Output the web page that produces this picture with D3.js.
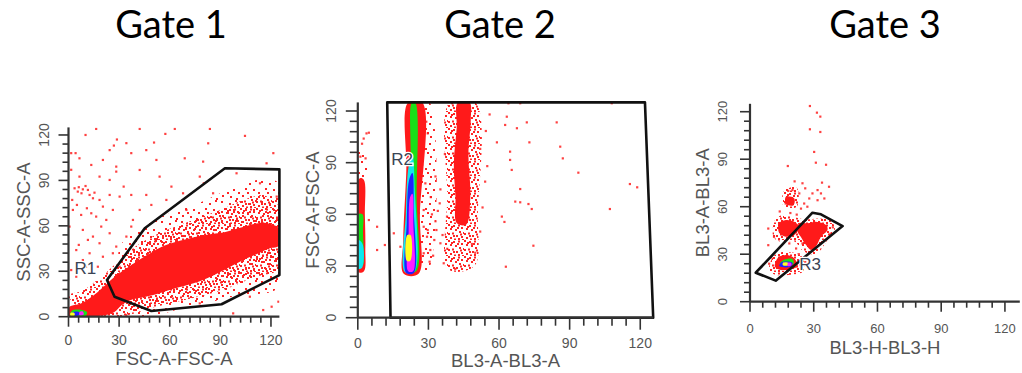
<!DOCTYPE html>
<html><head><meta charset="utf-8">
<script src="https://cdn.jsdelivr.net/npm/d3@7"></script>
<style>body{margin:0;background:#fff}svg{display:block}</style>
</head><body><svg id="c" width="1022" height="373"></svg>
<script>
// ---------- text ----------
const titles = ["Gate 1", "Gate 2", "Gate 3"];
const xLabels = ["FSC-A-FSC-A", "BL3-A-BL3-A", "BL3-H-BL3-H"];
const yLabels = ["SSC-A-SSC-A", "FSC-A-FSC-A", "BL3-A-BL3-A"];
const gateNames = ["R1", "R2", "R3"];
const gateLabelPos = [[10, 32], [18.8, 91.6], [28.3, 23.8]];
const majorTicks = [0, 30, 60, 90, 120];
const minorTicks = [0, 6, 12, 18, 24, 30, 36, 42, 48, 54, 60, 66, 72, 78, 84, 90, 96, 102, 108, 114, 120];

// ---------- Gate 1 (FSC-A vs SSC-A) ----------
const gate1 = [[22.8,24.2],[27.3,13.2],[49.1,3.8],[90.7,8.2],[125,27.5],[125,97.3],[92.7,98],[45.2,58.4]];
const core1 = [[0,0],[18,0.5],[27,3],[32,8],[37,11],[49,14],[61,18],[77,23],[89,29],[101,36],[111,41],[119,45],[125,47],[125,58],[116,62],[106,60],[93,56],[81,54],[69,51],[57,47],[47,41],[37,34],[27,26],[17,16],[8,9],[0,6]];
const haze1 = [[15,0],[35,1],[50,6],[65,10],[80,14],[95,19],[110,26],[125,32],[125,72],[116,80],[106,78],[95,73],[84,68],[72,63],[60,58],[48,52],[38,45],[28,35],[18,25],[8,17],[0,14]];
const light1 = [[40,2],[70,6],[100,14],[125,20],[125,88],[110,90],[95,84],[75,74],[55,66],[40,56],[30,45]];
const hot1 = [[2,[[1,0.4],[10,0.4],[11,3],[8,4.5],[2,4]]],[4,[[2,0.8],[6,0.8],[6.5,3],[2.5,3]]],[6,[[1.2,0.6],[3.5,0.6],[3.5,2.5],[1.2,2.5]]],[5,[[6.5,1],[9,1.5],[8.5,3.5],[6.5,3]]]];
const sparse1 = [[10.1,120],[16.4,124],[28.7,117],[26.9,113],[34.3,114.6],[42.2,124],[50.7,115],[57.4,120.7],[63,124],[68.9,104.6],[79.8,102.4],[83.8,124],[104.6,119.4],[121.4,108],[82.8,114.5],[67.9,81.5],[85.7,81.5],[46.1,80.4],[61,85.9],[4.2,108],[1.6,97],[6.5,92.5],[5.5,82.6],[11.5,83.7],[14.5,78.2],[18.4,92.5],[24.4,90.3],[28.3,95.8],[24.4,80.4],[30.3,79.3],[2.6,70.5],[7.5,67.2],[16.4,66.1],[22.4,63.9],[0.6,59.5],[8.5,57.3],[14.5,52.9],[4.6,44],[12.5,41.9],[18.4,48.5],[28.3,46.3],[20.4,39.6],[8.5,37.4],[34.3,52.9],[38.2,63.9],[49.1,73.8],[52.1,103.5],[77.8,92.5],[99.6,94.7],[113.5,88.1],[117.4,101.3],[123.4,79.3],[120.4,6.6],[124.4,9.9],[115.4,4.4],[107.5,13.2],[77.8,8.8],[34.3,1.1],[97.6,2.2],[3.6,84.8],[6.1,85.5],[8.5,84.1],[10.1,86.3],[7.7,81.5],[12.5,80.4],[15.4,81.9],[18.4,77.1],[2.2,77.1],[5,73.8],[10.9,71.6],[20.4,72.7],[26.3,70.5],[13.5,68.3],[19.4,59.5],[24.4,55.1],[11.5,50.7],[6.1,47.4],[1.6,30.8],[10.5,33],[17.4,33],[4.6,26.4],[26.3,41.9],[30.3,33],[37.2,59.5],[42.2,70.5],[32.7,85.9],[37.2,80.4],[20.4,103.5],[13.5,100.2],[6.5,104.6],[1.6,108],[24.4,110],[37.2,108],[46.1,110],[28.3,99.1],[42.2,96.9],[54,92.5],[58,77.1],[69.9,70.5],[80.2,88.1]];

// ---------- Gate 2 (BL3-A vs FSC-A) ----------
const gate2 = [[12.5,125],[122,125],[125.5,0],[13.9,0]];
const core2 = [
  [[0,26.5],[2.6,27],[3.2,40],[3,60],[2.6,80],[1,81],[0,79]],
  [[19.5,25.5],[25.8,25.5],[26.4,60],[27.4,125],[21.4,125],[20.6,85],[19.3,45]],
  [[42,55],[46,54],[47.8,70],[47,95],[48,115],[47.5,125],[42.5,125],[42,110],[40.8,90],[41.5,70]]
];
const haze2 = [[[38.5,28],[49.5,30],[51,60],[50,125],[39,125],[38,70]]];
const light2 = [[[26,27],[30,28],[30.5,125],[27,125]],[[0,80],[3,80],[3,96],[0,96]]];
const hot2 = [
  [2,[[0,30],[2,30],[2.2,50],[2,60],[0,60]]],
  [3,[[0,28.5],[1.8,29],[2,43],[0,45]]],
  [2,[[20.3,27],[24.8,27],[25,70],[24.4,125],[23,125],[22.4,90],[20.3,50]]],
  [3,[[20,26.5],[24,26.5],[24.2,75],[23.2,95],[21.6,88],[20.4,60]]],
  [4,[[20.6,26],[23.8,26],[23.8,62],[23.2,84],[21.8,80],[20.8,55]]],
  [5,[[21.4,27],[23.5,27],[23.6,55],[23.2,72],[22.2,70],[21.6,50]]],
  [6,[[20.8,33],[22.3,33],[22.4,48],[21,48]]]
];
const sparse2 = [[64,124.5],[69,124.5],[107.9,124.5],[40,124.5],[84.5,113.4],[71.8,113.4],[63.3,116.7],[62.6,111.9],[67.6,110],[54.4,108.4],[59.1,101.8],[72.9,101.8],[86,99.3],[87.1,92.5],[64.7,96.4],[64.7,91.6],[65.4,85.8],[93.7,84.2],[54.1,79],[69,74.7],[115.6,77.6],[118.7,75.7],[66.9,67.4],[69,67],[72.5,66],[73.9,63.1],[107.1,63.1],[61.2,58.7],[62.3,55.6],[74.6,41.8],[62.9,29.6],[35.1,74.5],[34.8,66.4],[37.9,58.7],[33.4,50.9],[35.1,43.2],[30.8,39.3],[36.5,31.6],[41.4,28.3],[29.7,50.9],[49.9,37.7],[48.5,42.8],[4.7,56.7],[8.2,52.8],[11.5,42.2],[8.2,39.3],[2.5,104],[3.7,107],[4.7,107.4],[1.8,101],[3.3,92.5],[1.1,93.5],[29.1,113.8],[28,120.6],[29.7,107],[27.3,88.7],[28.7,78],[28,62.5],[28,52.8],[29.4,47],[32.5,45.1],[28,37.4],[30.5,32.5],[15.3,49],[18.1,41.2],[31.5,60],[33,56],[36,48],[32,36],[38,40],[31,70],[34,62],[52,50],[53,64],[52,98],[56,118],[33,82],[37,95],[55,88]];

// ---------- Gate 3 (BL3-H vs BL3-A) ----------
const gate3 = [[2.7,18.3],[29.4,56.2],[33.4,55.2],[43.6,47.8],[12.1,13.3]];
const core3 = [
  [[12.1,25.3],[13.7,28.4],[17.6,29.5],[20.8,27.4],[22.4,22.6],[19.2,20.5],[14.5,20.1],[11.7,22.1]],
  [[13.7,49.5],[16.9,51.6],[20.8,50.5],[23.1,47.4],[20.8,42.1],[16.9,41.1],[13.7,43.6]],
  [[23.1,49.5],[27.1,49.5],[31,50.5],[35.8,48.4],[36.5,45.3],[33.4,41.1],[31,34.8],[28.7,32.7],[26.3,35.9],[23.9,41.1],[22.4,44.2]],
  [[16.9,66.3],[20.8,65.3],[20.5,61],[16.9,61.7]]
];
const haze3 = [
  [[9,20],[12,30],[20,31],[25,28],[25,19],[19,17],[12,17]],
  [[11,41],[12,52],[17,55],[25,52],[37,52],[40,46],[36,38],[31,30],[25,32],[21,38],[14,38]],
  [[16,60],[16,70],[22,72],[22,60]]
];
const hot3 = [
  [2,[[15,22],[20.5,24],[20,27],[16,26.5],[14,24]]],
  [4,[[13.8,22.5],[19,22],[20,24.5],[15,25]]],
  [6,[[15.5,23],[18,23],[18,24.6],[15.5,24.6]]],
  [5,[[17.8,22.5],[19.5,23],[19.3,24.5],[17.8,24.5]]]
];
const sparse3 = [[28.2,123.6],[31.5,119.4],[33.1,116.9],[28.2,108.9],[33.1,107.2],[30.2,94.6],[31,87.8],[35.8,86.5],[17.8,85.7],[37.2,72.6],[33.9,75.2],[24.7,74.8],[26,71.6],[20,70.5],[31.8,70.5],[33.4,68.4],[29.4,68.4],[27.9,65.2],[23.2,68.4],[35,65.2],[31.8,64.1],[25.5,62],[24,58.8],[16.8,62],[8.6,46.2],[8.6,35.7],[11.3,41],[13.7,48.5],[18.5,36.8],[21.7,33.6],[16.8,27.3],[24.7,36.8],[25.5,47.4],[10,28],[9,24],[23,30],[26,25],[22,55],[19,56],[14,57],[39,47],[38,43],[21,76],[18,70],[27,60]];

// ---------- layout (style only) ----------
const panels = [
  {xr:[68.5,279.4], yr:[316.7,127.4], xd:[0,125], yd:[0,125], major:10, minor:6, tf:14, ylabX:44, ytitX:23, xlabY:340, xtitY:358, titleX:171,
   gate:gate1, core:[core1], haze:[haze1], light:[light1], hot:hot1, sparse:sparse1},
  {xr:[357.8,653.2], yr:[317.7,102.4], xd:[0,125.5], yd:[0,125], major:12, minor:8, tf:14, ylabX:331, ytitX:312, xlabY:343, xtitY:360, titleX:500,
   gate:gate2, core:core2, haze:haze2, light:light2, hot:hot2, sparse:sparse2},
  {xr:[750,1019.8], yr:[301.7,103.8], xd:[0,127], yd:[0,125], major:10, minor:6, tf:13, ylabX:722, ytitX:702, xlabY:328, xtitY:347, titleX:885,
   gate:gate3, core:core3, haze:haze3, light:[], hot:hot3, sparse:sparse3}
];
const levelColor = d3.scaleOrdinal().domain([1,2,3,4,5,6]).range(["#ff1a1a","#18e018","#10e8f0","#2020ff","#ff20ff","#ffff20"]);

const svg = d3.select("#c");
const defs = svg.append("defs");
function pattern(id, size, dots) {
  const p = defs.append("pattern").attr("id", id).attr("patternUnits", "userSpaceOnUse").attr("width", size).attr("height", size);
  dots.forEach(([x, y]) => p.append("rect").attr("x", x).attr("y", y).attr("width", 2).attr("height", 2).attr("fill", "#ff2424"));
}
pattern("speckD", 16, [[0,0],[5,1],[10,0.5],[13,3],[2,4],[7,5],[11,7],[15,8],[0,9],[4,8.5],[8,11],[13,12],[2,13],[6,14.5],[10,14],[14,15],[3,2],[9,3],[5,11],[12,9.5]]);
pattern("speckL", 20, [[1,1],[9,3],[15,0],[5,8],[13,9],[18,12],[2,15],[10,16],[16,18],[7,12]]);

const axisColor = "#333";
const textColor = "#555";

panels.forEach((p, i) => {
  const x = d3.scaleLinear().domain(p.xd).range(p.xr);
  const y = d3.scaleLinear().domain(p.yd).range(p.yr);
  const line = d3.line().x(d => x(d[0])).y(d => y(d[1]));
  const area = d3.line().x(d => x(d[0])).y(d => y(d[1])).curve(d3.curveCatmullRomClosed.alpha(0.5));
  const g = svg.append("g");

  defs.append("clipPath").attr("id", "clip" + i).append("rect")
    .attr("x", p.xr[0]).attr("y", p.yr[1]).attr("width", p.xr[1] - p.xr[0]).attr("height", p.yr[0] - p.yr[1]);
  const plot = g.append("g").attr("clip-path", `url(#clip${i})`);

  plot.selectAll(".light").data(p.light).join("path").attr("d", area).attr("fill", "url(#speckL)");
  plot.selectAll(".haze").data(p.haze).join("path").attr("d", area).attr("fill", "url(#speckD)");
  plot.selectAll(".sp").data(p.sparse).join("rect")
    .attr("x", d => x(d[0]) - 1.1).attr("y", d => y(d[1]) - 1.1).attr("width", 2.2).attr("height", 2.2)
    .attr("fill", "#ff2020").attr("opacity", 0.85);
  plot.selectAll(".core").data(p.core).join("path").attr("d", area).attr("fill", levelColor(1));
  plot.selectAll(".hot").data(p.hot).join("path").attr("d", d => area(d[1])).attr("fill", d => levelColor(d[0]));

  // gate polygon
  g.append("path").attr("d", line(p.gate) + "Z").attr("fill", "none").attr("stroke", "#111")
    .attr("stroke-width", 2.6).attr("stroke-linejoin", "round");
  g.append("text").attr("x", x(gateLabelPos[i][0])).attr("y", y(gateLabelPos[i][1]))
    .attr("text-anchor", "middle").attr("dominant-baseline", "central")
    .attr("font-family", "Liberation Sans, Arial, sans-serif").attr("font-size", 17)
    .attr("fill", "#3a4454").attr("stroke", "#fff").attr("stroke-width", 2.5).attr("paint-order", "stroke")
    .text(gateNames[i]);

  // axes
  const ax = g.append("g").attr("stroke", axisColor);
  ax.selectAll(".xmin").data(minorTicks).join("line")
    .attr("x1", d => x(d)).attr("x2", d => x(d)).attr("y1", p.yr[0]).attr("y2", d => p.yr[0] + (majorTicks.includes(d) ? p.major : p.minor))
    .attr("stroke-width", 1.6);
  ax.selectAll(".ymin").data(minorTicks).join("line")
    .attr("y1", d => y(d)).attr("y2", d => y(d)).attr("x1", p.xr[0]).attr("x2", d => p.xr[0] - (majorTicks.includes(d) ? p.major : p.minor))
    .attr("stroke-width", 1.6);
  ax.append("line").attr("x1", p.xr[0]).attr("x2", p.xr[1]).attr("y1", p.yr[0]).attr("y2", p.yr[0]).attr("stroke-width", 2.2);
  ax.append("line").attr("x1", p.xr[0]).attr("x2", p.xr[0]).attr("y1", p.yr[0]).attr("y2", p.yr[1]).attr("stroke-width", 2.2);

  const font = "Liberation Sans, Arial, sans-serif";
  g.selectAll(".xl").data(majorTicks).join("text")
    .attr("x", d => x(d)).attr("y", p.xlabY).attr("text-anchor", "middle").attr("dominant-baseline", "central")
    .attr("font-family", font).attr("font-size", p.tf).attr("fill", textColor).text(d => d);
  g.selectAll(".yl").data(majorTicks).join("text")
    .attr("transform", d => `translate(${p.ylabX},${y(d)}) rotate(-90)`)
    .attr("text-anchor", "middle").attr("dominant-baseline", "central")
    .attr("font-family", font).attr("font-size", p.tf).attr("fill", textColor).text(d => d);
  g.append("text").attr("x", (p.xr[0] + p.xr[1]) / 2).attr("y", p.xtitY)
    .attr("text-anchor", "middle").attr("dominant-baseline", "central")
    .attr("font-family", font).attr("font-size", 18.5).attr("fill", textColor).text(xLabels[i]);
  g.append("text").attr("transform", `translate(${p.ytitX},${(p.yr[0] + p.yr[1]) / 2}) rotate(-90)`)
    .attr("text-anchor", "middle").attr("dominant-baseline", "central")
    .attr("font-family", font).attr("font-size", 18.5).attr("fill", textColor).text(yLabels[i]);

  svg.append("text").attr("x", p.titleX).attr("y", 38).attr("text-anchor", "middle")
    .attr("font-family", "Lato, Carlito, sans-serif").attr("font-size", 38).attr("fill", "#000").text(titles[i]);
});
</script></body></html>
